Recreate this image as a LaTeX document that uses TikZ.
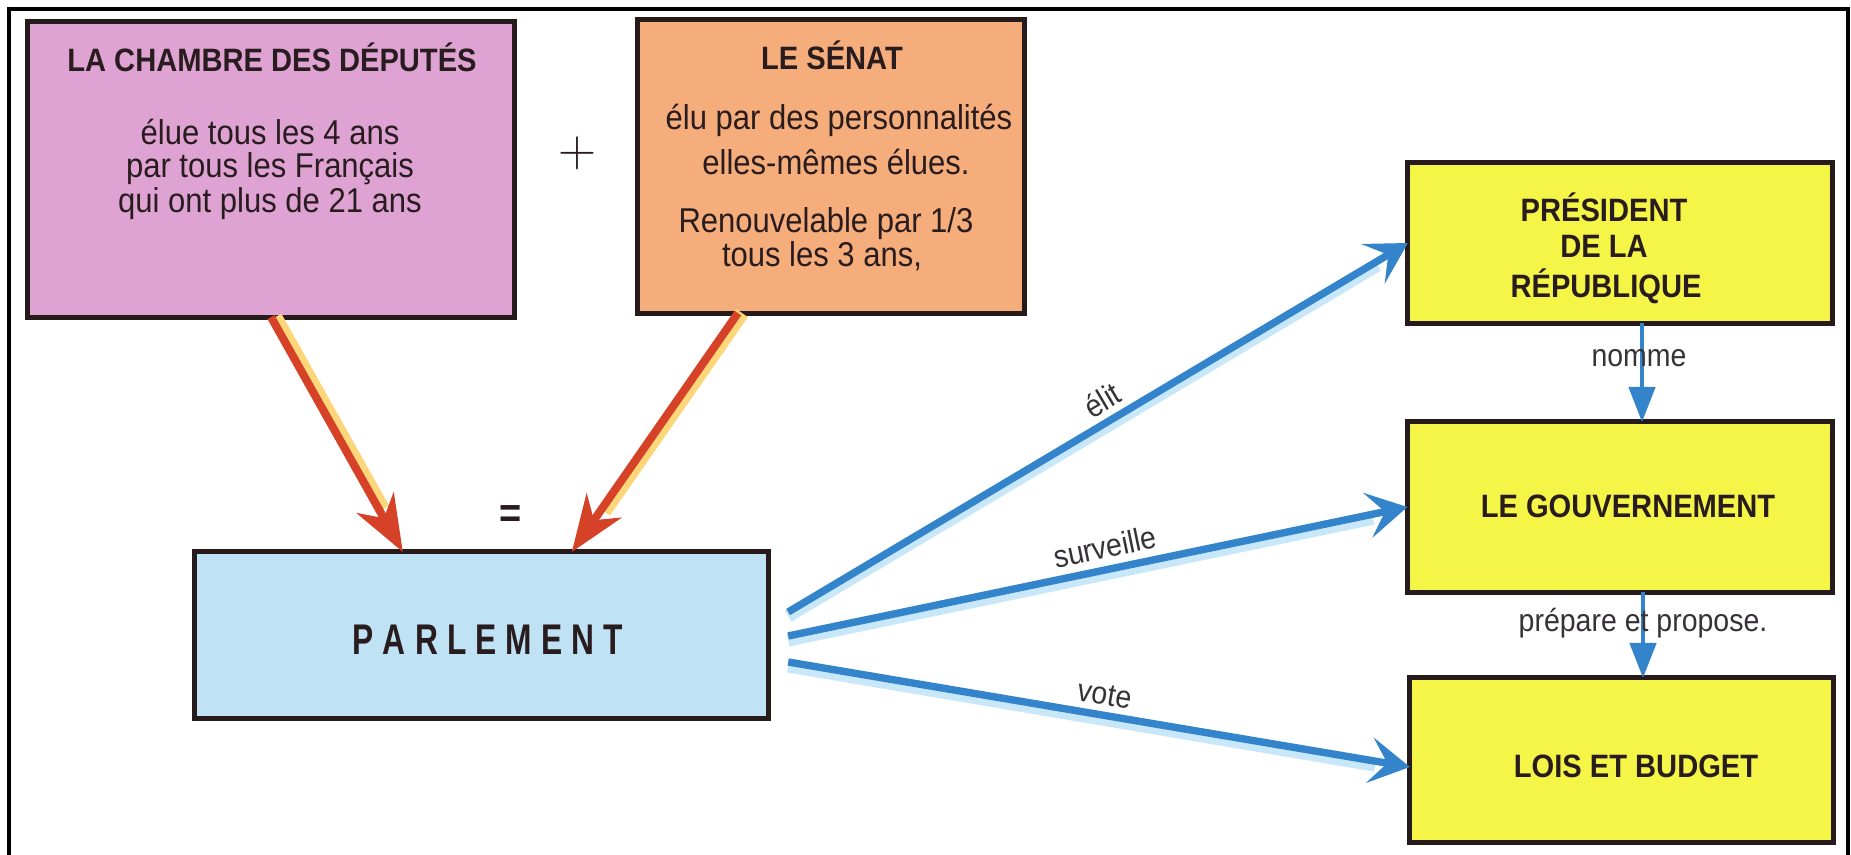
\documentclass[tikz,border=0pt]{standalone}
\usepackage{fontspec}
\setsansfont{Liberation Sans}[FakeStretch=0.9]
\newfontfamily\parlfont{Liberation Sans}[FakeStretch=0.74]
\usetikzlibrary{arrows.meta,calc}
\definecolor{pinkbox}{RGB}{223,163,211}
\definecolor{orangebox}{RGB}{246,173,124}
\definecolor{bluebox}{RGB}{192,226,245}
\definecolor{yellowbox}{RGB}{245,245,72}
\definecolor{edge}{RGB}{38,26,26}
\definecolor{ink}{RGB}{40,28,30}
\definecolor{labink}{RGB}{55,50,55}
\definecolor{redarrow}{RGB}{214,66,40}
\definecolor{redhalo}{RGB}{252,214,120}
\definecolor{bluearrow}{RGB}{52,132,204}
\definecolor{bluehalo}{RGB}{200,232,250}
\begin{document}
\begin{tikzpicture}[x=0.01cm,y=-0.01cm,
  box/.style={draw=edge,line width=1.4pt,inner sep=0pt,outer sep=0pt},
  ttl/.style={font=\sffamily\bfseries\fontsize{9.2}{10}\selectfont,text=ink,anchor=base,inner sep=0pt},
  bdy/.style={font=\sffamily\fontsize{9.8}{10}\selectfont,text=ink,anchor=base,inner sep=0pt},
  lab/.style={font=\sffamily\fontsize{9}{10}\selectfont,text=labink,inner sep=0pt},
  redarr/.style={draw=redarrow,line width=2.3pt,-{Stealth[length=16pt,width=12pt,inset=5pt]}},
  redglow/.style={draw=redhalo,line width=4pt,shorten >=14pt},
  bluearr/.style={draw=bluearrow,line width=2.1pt,-{Stealth[length=11.5pt,width=13pt,inset=5pt]}},
  blueglow/.style={draw=bluehalo,line width=3.6pt,shorten >=10pt},
  smallarr/.style={draw=bluearrow,line width=1.1pt,-{Triangle[length=10pt,width=7.5pt]}}
]
\useasboundingbox[fill=white] (0,0) rectangle (1851,855);
\draw[line width=0.9pt,black] (9,855) -- (9,9) -- (1848,9) -- (1848,855);

% boxes
\node[box,fill=pinkbox,minimum width=4.86cm,minimum height=2.95cm] (chambre) at (271,169.5) {};
\node[box,fill=orangebox,minimum width=3.86cm,minimum height=2.93cm] (senat) at (831,166.5) {};
\node[box,fill=bluebox,minimum width=5.73cm,minimum height=1.66cm] (parl) at (481.5,635) {};
\node[box,fill=yellowbox,minimum width=4.24cm,minimum height=1.60cm] (pres) at (1620,243) {};
\node[box,fill=yellowbox,minimum width=4.25cm,minimum height=1.70cm] (gouv) at (1620,507) {};
\node[box,fill=yellowbox,minimum width=4.23cm,minimum height=1.64cm] (lois) at (1621.5,760) {};

% box texts
\node[ttl] (chT) at (272,72) {LA CHAMBRE DES DÉPUTÉS};
\node[bdy] (ch1) at (270,145) {élue tous les 4 ans};
\node[bdy] (ch2) at (270,178) {par tous les Français};
\node[bdy] (ch3) at (270,213) {qui ont plus de 21 ans};

\node[ttl] (seT) at (832,70) {LE SÉNAT};
\node[bdy] (se1) at (839,130) {élu par des personnalités};
\node[bdy] (se2) at (836,175) {elles-mêmes élues.};
\node[bdy] (se3) at (826,233) {Renouvelable par 1/3};
\node[bdy] (se4) at (822,267) {tous les 3 ans,};

\node[ttl] (pr1) at (1604,222) {PRÉSIDENT};
\node[ttl] (pr2) at (1604,258) {DE LA};
\node[ttl] (pr3) at (1606,298) {RÉPUBLIQUE};
\node[ttl] (goT) at (1628,518) {LE GOUVERNEMENT};
\node[ttl] (loT) at (1636,777) {LOIS ET BUDGET};

\node[anchor=base,inner sep=0pt,text=ink,font=\parlfont\bfseries\fontsize{12.2}{13}\selectfont] (parlT) at (488,655)
  {P\kern2.6pt A\kern2.6pt R\kern2.6pt L\kern2.6pt E\kern2.6pt M\kern2.6pt E\kern2.6pt N\kern2.6pt T};

\node[inner sep=0pt,text=ink,font=\rmfamily\fontsize{15}{16}\selectfont] (plus) at (577,153) {+};
\node[inner sep=0pt,text=ink,font=\sffamily\bfseries\fontsize{12}{14}\selectfont] (egal) at (511,517) {=};

% red arrows (with printing halo)
\coordinate (rA) at (chambre.south);
\coordinate (rAt) at ($(parl.north west)+(208,0)$);
\coordinate (rB) at ($(senat.south west)+(100,0)$);
\coordinate (rBt) at ($(parl.north west)+(377,0)$);
\draw[redglow,transform canvas={xshift=1.2pt}] (rA) -- (rAt);
\draw[redglow,transform canvas={xshift=1.2pt}] (rB) -- (rBt);
\draw[redarr] (rA) -- (rAt);
\draw[redarr] (rB) -- (rBt);

% blue arrows
\coordinate (s1) at ($(parl.east)+(20,-23)$);
\coordinate (s2) at ($(parl.east)+(20,1)$);
\coordinate (s3) at ($(parl.east)+(20,27)$);
\coordinate (t3) at ($(lois.west)+(0,7)$);
\draw[blueglow,transform canvas={yshift=-1.2pt}] (s1) -- (pres.west);
\draw[blueglow,transform canvas={yshift=-1.2pt}] (s2) -- (gouv.west);
\draw[blueglow,transform canvas={yshift=-1.2pt}] (s3) -- (t3);
\draw[bluearr] (s1) -- (pres.west);
\draw[bluearr] (s2) -- (gouv.west);
\draw[bluearr] (s3) -- (t3);
\draw[smallarr] ($(pres.south)+(22,0)$) -- ($(gouv.north)+(22,0)$);
\draw[smallarr] ($(gouv.south)+(23,0)$) -- ($(lois.north)+(21.5,0)$);

% labels
\node[lab,rotate=30.5] (elit) at (1102,400) {élit};
\node[lab,rotate=11.7] (surv) at (1105,547) {surveille};
\node[lab,rotate=-9.7] (vote) at (1105,695) {vote};
\node[lab,anchor=base] (nomme) at (1639,367) {nomme};
\node[lab,anchor=base] (prep) at (1643,632) {prépare et propose.};
\end{tikzpicture}
\end{document}
